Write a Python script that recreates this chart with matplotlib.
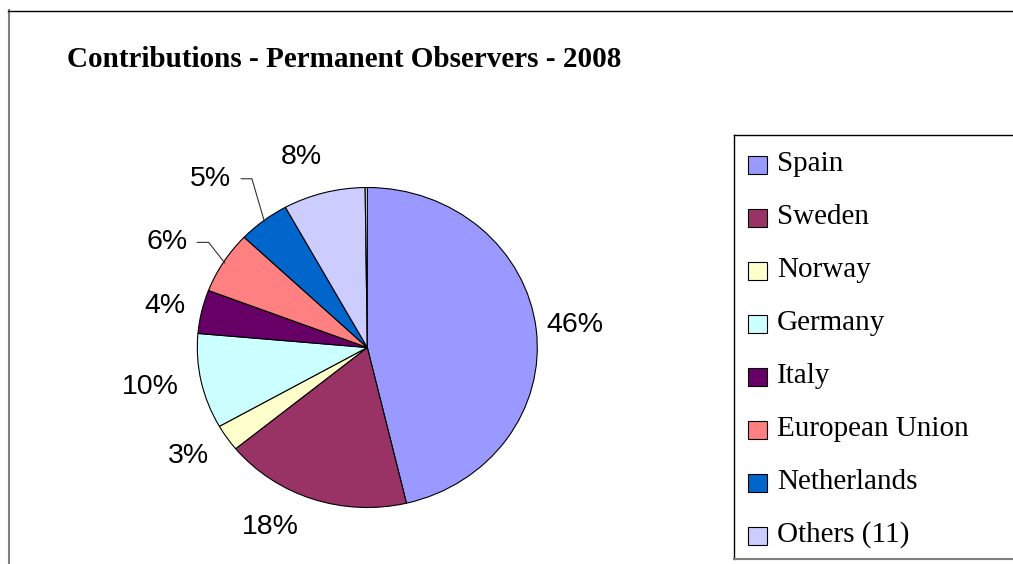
import matplotlib
matplotlib.use("Agg")
import matplotlib.pyplot as plt
from matplotlib.patches import Rectangle
import numpy as np

title = "Contributions - Permanent Observers - 2008"
countries = ["Spain", "Sweden", "Norway", "Germany", "Italy",
             "European Union", "Netherlands", "Others (11)"]
shares = [46.3, 17.8, 2.7, 9.6, 4.4, 6.3, 4.9, 7.8]
gap_share = 0.2   # thin unnamed sliver at 12 o'clock
colors = ["#9999FF", "#993366", "#FFFFCC", "#CCFFFF", "#660066",
          "#FF8080", "#0066CC", "#CCCCFF"]

# where the % labels sit: distance from centre and clockwise nudge (deg)
label_dist = [1.23, 1.26, 1.25, 1.30, 1.22, 1.35, 1.40, 1.25]
label_nudge = [0, 8.2, 1.6, 1.3, -0.6, -3.1, -3.5, -3.2]
# leader lines: None or angle of the last segment (display degrees)
leader_angle = [None, None, None, None, None, 128.3, 106.3, None]

W, H = 1013, 564
fig = plt.figure(figsize=(W / 100, H / 100), dpi=100)

# background axes in pixel coords (y down) for frame, title, legend
bg = fig.add_axes([0, 0, 1, 1])
bg.set_xlim(0, W)
bg.set_ylim(H, 0)
bg.axis('off')

bg.plot([8.5, 8.5], [10, H], color='#808080', lw=1.5)
bg.plot([8, W], [10.5, 10.5], color='black', lw=1)

bg.text(67, 67, title, fontsize=21, fontweight='bold',
        family='Liberation Serif', va='baseline')

# legend box
bg.plot([734, 734], [135, 559], color='black', lw=1)
bg.plot([734, W], [135, 135], color='black', lw=1)
bg.plot([734, W], [559, 559], color='#808080', lw=1.5)
for i, (name, col) in enumerate(zip(countries, colors)):
    yc = 164.5 + 53 * i
    bg.add_patch(Rectangle((748, yc - 9), 19, 18, facecolor=col,
                           edgecolor='black', lw=0.8))
    bg.text(777, yc + 6.5, name, fontsize=21, family='Liberation Serif',
            va='baseline')

# pie axes (slightly squashed, like the original)
cx, cy, rx, ry = 367.3, H - 347.5, 170, 160
ax = fig.add_axes([(cx - 1.25 * rx) / W, (cy - 1.25 * ry) / H,
                   2.5 * rx / W, 2.5 * ry / H])
wedges, _ = ax.pie(shares + [gap_share], colors=colors + ['white'],
                   startangle=90, counterclock=False,
                   wedgeprops=dict(edgecolor='black', linewidth=0.8))
ax.set_aspect('auto')
ax.set_xlim(-1.25, 1.25)
ax.set_ylim(-1.25, 1.25)
ax.axis('off')

for i, v in enumerate(shares):
    w = wedges[i]
    mid = (w.theta1 + w.theta2) / 2
    a = np.radians(mid - label_nudge[i])
    pos = (label_dist[i] * np.cos(a), label_dist[i] * np.sin(a))
    txt = f"{v:.0f}%"
    if leader_angle[i] is None:
        ax.text(pos[0], pos[1], txt, ha='center', va='center',
                fontsize=20.5, family='Liberation Sans')
    else:
        m = np.radians(mid)
        ax.annotate(txt, xy=(0.99 * np.cos(m), 0.99 * np.sin(m)),
                    xytext=pos, ha='center', va='center',
                    fontsize=20.5, family='Liberation Sans',
                    arrowprops=dict(arrowstyle='-', color='#333333', lw=0.8,
                                    shrinkA=5, shrinkB=0,
                                    connectionstyle=f"angle,angleA=0,angleB={leader_angle[i]},rad=0"))

fig.savefig('out.png', dpi=100)
